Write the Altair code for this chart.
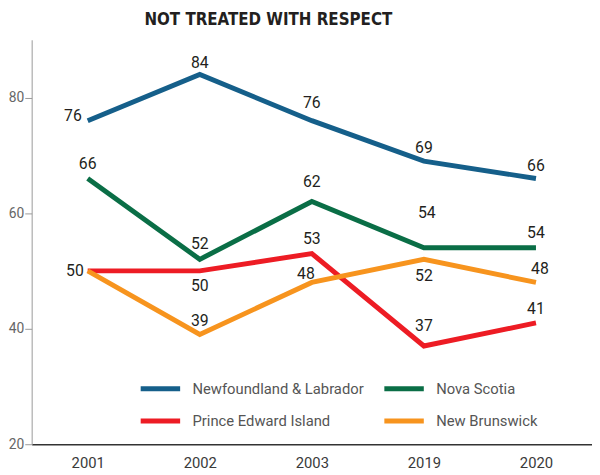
import altair as alt
import pandas as pd

years = ["2001", "2002", "2003", "2019", "2020"]
provinces = ["Newfoundland & Labrador", "Nova Scotia", "Prince Edward Island", "New Brunswick"]
colors = ["#155F8A", "#0A6E46", "#ED1C24", "#F7941E"]

nl = [76, 84, 76, 69, 66]
ns = [66, 52, 62, 54, 54]
pei = [50, 50, 53, 37, 41]
nb = [50, 39, 48, 52, 48]

label_dx = {
    "Newfoundland & Labrador": [-15, 0, 0, 0, 0],
    "Nova Scotia": [0, 0, 0, 3, 0],
    "Prince Edward Island": [-13, 0, 0, 0, 0],
    "New Brunswick": [0, 0, -6, 0, 4],
}
label_dy = {
    "Newfoundland & Labrador": [-5, -12, -18, -13, -13],
    "Nova Scotia": [-15, -15, -20, -35, -15],
    "Prince Edward Island": [0, 15, -15, -20, -14],
    "New Brunswick": [0, -14, -8, 17, -14],
}
show_label = {
    "Newfoundland & Labrador": [1, 1, 1, 1, 1],
    "Nova Scotia": [1, 1, 1, 1, 1],
    "Prince Edward Island": [1, 1, 1, 1, 1],
    "New Brunswick": [0, 1, 1, 1, 1],
}

series = {"Newfoundland & Labrador": nl, "Nova Scotia": ns,
          "Prince Edward Island": pei, "New Brunswick": nb}

rows = []
for p in provinces:
    for i, y in enumerate(years):
        rows.append({"year": y, "province": p, "value": series[p][i],
                     "dx": label_dx[p][i], "dy": label_dy[p][i],
                     "show": show_label[p][i]})
df = pd.DataFrame(rows)

FONT = "Roboto"
TFONT = "DejaVu Sans Condensed"
H = 410
YMIN, YMAX = 20, 90

x = alt.X("year:N", sort=years, title=None,
          scale=alt.Scale(type="point", padding=0.5),
          axis=alt.Axis(labelAngle=0, ticks=False, domainColor="#333333",
                        domainWidth=1.5, labelColor="#3A3A3A", labelFontSize=15,
                        labelFont=FONT, labelPadding=12, grid=False))
yscale = alt.Scale(domain=[YMIN, YMAX], nice=False, zero=False)
yaxis = alt.Axis(values=[20, 40, 60, 80], grid=False, domainColor="#999999",
                 tickColor="#999999", tickSize=7, labelPadding=1,
                 labelColor="#666666", labelFontSize=14, labelFont=FONT)
y = alt.Y("value:Q", title=None, scale=yscale, axis=yaxis)

color = alt.Color("province:N", sort=provinces,
                  scale=alt.Scale(domain=provinces, range=colors),
                  legend=alt.Legend(title=None, orient="none", legendX=108, legendY=331,
                                    columns=2, symbolType="stroke", symbolSize=1600,
                                    symbolStrokeWidth=5, labelFontSize=15,
                                    labelFont=FONT, labelColor="#555555",
                                    labelLimit=0,
                                    labelOffset=10, columnPadding=10, rowPadding=-2,
                                    direction="horizontal"))

lines = alt.Chart(df).mark_line(strokeWidth=5, strokeCap="butt", strokeJoin="miter").encode(
    x=x, y=y, color=color, detail="province:N")

labels = alt.Chart(df).transform_filter("datum.show == 1").transform_calculate(
    ly=f"datum.value - datum.dy * {(YMAX - YMIN) / H}"
).mark_text(fontSize=16, font=FONT, color="#231F20").encode(
    x=x,
    y=alt.Y("ly:Q", title=None, scale=yscale, axis=yaxis),
    xOffset=alt.XOffset("dx:Q", scale=None),
    text="value:Q")

chart = alt.layer(lines, labels).properties(
    width=568, height=H,
    title=alt.TitleParams("NOT TREATED WITH RESPECT", anchor="start", dx=138,
                          fontSize=17, font=TFONT, fontWeight="bold",
                          color="#231F20", offset=11),
    autosize=alt.AutoSizeParams(type="none"),
    padding={"left": 24, "top": 29, "right": 0, "bottom": 30},
).configure_view(stroke=None)

chart.save("out.html", embed_options={"renderer": "svg", "actions": False})
